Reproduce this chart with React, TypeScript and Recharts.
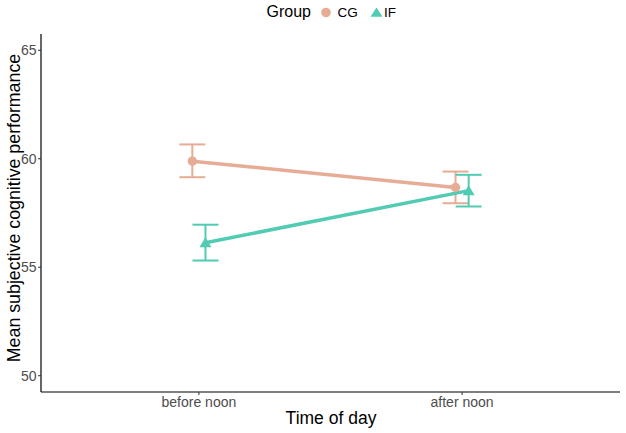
import React from 'react';
import { ComposedChart, Line, XAxis, YAxis, ErrorBar, Label } from 'recharts';

const timeLabels = ['before noon', 'after noon'];
const groupNames = ['CG', 'IF'];
const cgMean = [59.89, 58.68];
const cgLower = [59.15, 57.95];
const cgUpper = [60.66, 59.41];
const ifMean = [56.13, 58.53];
const ifLower = [55.31, 57.8];
const ifUpper = [56.96, 59.26];
const yTicks = [50, 55, 60, 65];
const xTicks = [1, 2];

const CG_COLOR = '#E6AC95';
const IF_COLOR = '#52CBB3';
const FONT = '"Liberation Sans", Arial, sans-serif';
const DODGE = 0.025;

function build(mean: number[], lower: number[], upper: number[], offset: number) {
  return mean.map((m, i) => ({
    x: xTicks[i] + offset,
    y: m,
    err: [m - lower[i], upper[i] - m],
  }));
}

const cgData = build(cgMean, cgLower, cgUpper, -DODGE);
const ifData = build(ifMean, ifLower, ifUpper, DODGE);

const CircleDot = (props: any) => {
  const { cx, cy } = props;
  if (cx == null || cy == null) return null;
  return <circle cx={cx} cy={cy} r={4.7} fill={CG_COLOR} stroke="none" />;
};

const TriangleDot = (props: any) => {
  const { cx, cy } = props;
  if (cx == null || cy == null) return null;
  return (
    <polygon
      points={`${cx},${cy - 5.5} ${cx - 6},${cy + 4.5} ${cx + 6},${cy + 4.5}`}
      fill={IF_COLOR}
      stroke="none"
    />
  );
};

export default function App() {
  return (
    <div style={{ position: 'absolute', left: 0, top: 0, width: 626, height: 433, background: '#fff', fontFamily: FONT }}>
      <ComposedChart
        width={626}
        height={433}
        margin={{ top: 34, right: 6, bottom: 0, left: 0 }}
      >
        <XAxis
          type="number"
          dataKey="x"
          domain={[0.4, 2.6]}
          ticks={xTicks}
          allowDataOverflow
          tickFormatter={(v: number) => timeLabels[Math.round(v) - 1] ?? ''}
          height={41}
          tickSize={3}
          tickMargin={2}
          axisLine={{ stroke: '#000', strokeWidth: 1.2 }}
          tickLine={{ stroke: '#333' }}
          tick={{ fill: '#4D4D4D', fontSize: 14, fontFamily: FONT }}
        >
          <Label
            content={() => (
              <text x={331} y={424} textAnchor="middle" fontSize={17.5} fill="#000" fontFamily={FONT}>
                Time of day
              </text>
            )}
          />
        </XAxis>
        <YAxis
          type="number"
          domain={[49.25, 65.75]}
          ticks={yTicks}
          allowDataOverflow
          width={41}
          tickSize={3}
          tickMargin={1.5}
          axisLine={{ stroke: '#000', strokeWidth: 1.2 }}
          tickLine={{ stroke: '#333' }}
          tick={{ fill: '#4D4D4D', fontSize: 14, fontFamily: FONT }}
        >
          <Label
            content={() => (
              <text
                x={20}
                y={208}
                transform="rotate(-90 20 208)"
                textAnchor="middle"
                fontSize={17.8}
                fill="#000"
                fontFamily={FONT}
              >
                Mean subjective cognitive performance
              </text>
            )}
          />
        </YAxis>
        <Line
          data={cgData}
          dataKey="y"
          name={groupNames[0]}
          stroke={CG_COLOR}
          strokeWidth={3.5}
          dot={<CircleDot />}
          activeDot={false}
          isAnimationActive={false}
        >
          <ErrorBar dataKey="err" direction="y" width={13} stroke={CG_COLOR} strokeWidth={2} />
        </Line>
        <Line
          data={ifData}
          dataKey="y"
          name={groupNames[1]}
          stroke={IF_COLOR}
          strokeWidth={3.5}
          dot={<TriangleDot />}
          activeDot={false}
          isAnimationActive={false}
        >
          <ErrorBar dataKey="err" direction="y" width={13} stroke={IF_COLOR} strokeWidth={2} />
        </Line>
      </ComposedChart>
      <svg width={626} height={28} style={{ position: 'absolute', left: 0, top: 0 }}>
        <text x={266.5} y={17} fontSize={16} fill="#000" fontFamily={FONT}>Group</text>
        <circle cx={326} cy={12.5} r={4.8} fill={CG_COLOR} />
        <text x={337.5} y={17} fontSize={13.5} fill="#000" fontFamily={FONT}>{groupNames[0]}</text>
        <polygon points="376.5,7.5 370.5,16.8 382.5,16.8" fill={IF_COLOR} />
        <text x={384} y={17} fontSize={13.5} fill="#000" fontFamily={FONT}>{groupNames[1]}</text>
      </svg>
    </div>
  );
}
